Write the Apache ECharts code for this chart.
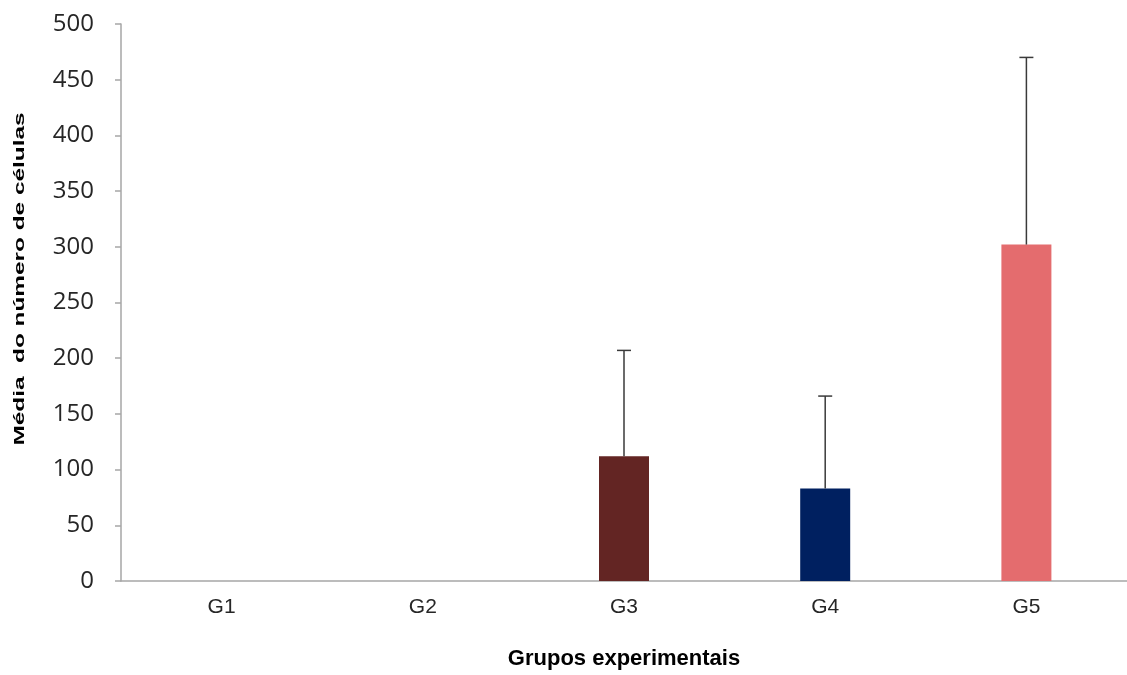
<!DOCTYPE html>
<html>
<head>
<meta charset="utf-8">
<script src="https://cdn.jsdelivr.net/npm/echarts@6/dist/echarts.min.js"></script>
<style>
html,body{margin:0;padding:0;background:#fff;}
#chart{width:1127px;height:675px;}
</style>
</head>
<body>
<div id="chart"></div>
<script>
var categories = ['G1', 'G2', 'G3', 'G4', 'G5'];
var means = [0, 0, 112, 83, 302];
var upperErrors = [0, 0, 207, 166, 470];
var yTicks = [0, 50, 100, 150, 200, 250, 300, 350, 400, 450, 500];
var barColors = ['#632523', '#632523', '#632523', '#002060', '#E46C6E'];

var chart = echarts.init(document.getElementById('chart'), null, {renderer: 'canvas'});

var errData = [];
for (var i = 0; i < categories.length; i++) {
  if (upperErrors[i] > means[i]) errData.push([i, means[i], upperErrors[i]]);
}

var option = {
  animation: false,
  backgroundColor: '#ffffff',
  grid: {left: 121, top: 24, width: 1010, height: 560, containLabel: false},
  xAxis: {
    type: 'category',
    data: categories,
    axisLine: {lineStyle: {color: '#a6a6a6', width: 1.5}},
    axisTick: {show: false},
    axisLabel: {color: '#262626', fontFamily: 'Liberation Sans', fontSize: 21, margin: 16},
    name: 'Grupos experimentais',
    nameLocation: 'middle',
    nameGap: 67,
    nameTextStyle: {color: '#000', fontFamily: 'Liberation Sans', fontWeight: 'bold', fontSize: 22, verticalAlign: 'top'}
  },
  yAxis: {
    type: 'value',
    min: yTicks[0],
    max: yTicks[yTicks.length - 1],
    interval: 50,
    splitLine: {show: false},
    axisLine: {show: true, lineStyle: {color: '#a6a6a6', width: 1.5}},
    axisTick: {show: true, length: 6, lineStyle: {color: '#a6a6a6', width: 1.5}},
    axisLabel: {color: '#262626', fontFamily: 'Open Sans', fontSize: 24, margin: 27}
  },
  graphic: [{
    type: 'text',
    x: 20,
    y: 279,
    rotation: Math.PI / 2,
    scaleX: 1.68,
    style: {
      text: 'Média  do número de células',
      fill: '#000',
      font: 'bold 14.5px "Liberation Sans"',
      align: 'center',
      verticalAlign: 'middle'
    }
  }],
  series: [
    {
      type: 'bar',
      barWidth: 50,
      data: means.map(function (v, i) { return {value: v, itemStyle: {color: barColors[i]}}; }),
      z: 2
    },
    {
      type: 'custom',
      z: 3,
      data: errData,
      renderItem: function (params, api) {
        var idx = api.value(0);
        var lo = api.coord([idx, api.value(1)]);
        var hi = api.coord([idx, api.value(2)]);
        var cap = 7;
        var st = {stroke: '#3a3a3a', lineWidth: 1.5};
        return {
          type: 'group',
          children: [
            {type: 'line', shape: {x1: lo[0], y1: lo[1], x2: hi[0], y2: hi[1]}, style: st},
            {type: 'line', shape: {x1: hi[0] - cap, y1: hi[1], x2: hi[0] + cap, y2: hi[1]}, style: st}
          ]
        };
      }
    }
  ]
};
chart.setOption(option);
</script>
</body>
</html>
